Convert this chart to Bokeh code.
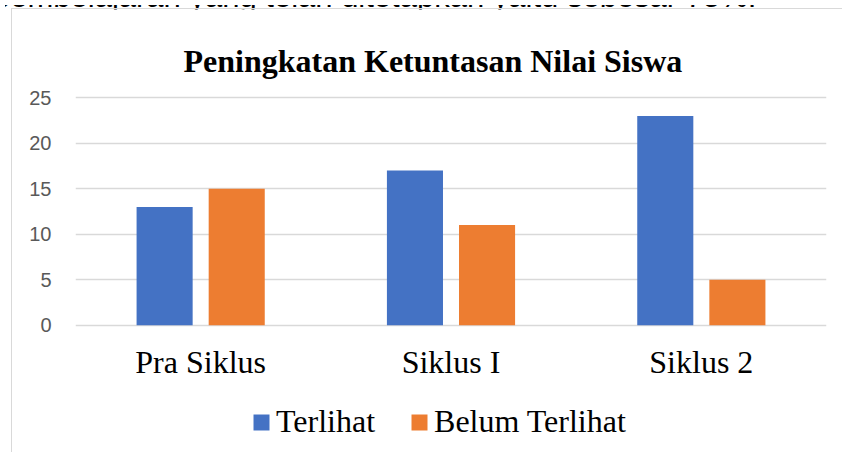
from bokeh.plotting import figure
from bokeh.models import (FactorRange, Range1d, FixedTicker, Legend, LegendItem,
                          ColumnDataSource, Div, Label)
from bokeh.layouts import column
from bokeh.transform import dodge
from bokeh.embed import file_html
from bokeh.resources import INLINE

# ---- data ----
categories = ["Pra Siklus", "Siklus I", "Siklus 2"]
terlihat = [13, 17, 23]
belum_terlihat = [15, 11, 5]
y_ticks = [0, 5, 10, 15, 20, 25]
title_text = "Peningkatan Ketuntasan Nilai Siswa"
series_names = ["Terlihat", "Belum Terlihat"]
page_text = "pembelajaran yang telah ditetapkan yaitu sebesar 75%."

src = ColumnDataSource(dict(cat=categories, a=terlihat, b=belum_terlihat))

top_div = Div(
    text=('<div style="position:relative; top:-24px; left:-12px; '
          'font-family:\'Liberation Sans\'; font-size:31px; line-height:31px; '
          'white-space:nowrap; color:#000;">' + page_text + '</div>'),
    width=842, height=8, styles={"overflow": "hidden"})

# 227 px of frame hold 0..25; the frame is extended 88 px above (title)
# and 128 px below (category labels and legend)
PX = 25 / 227
p = figure(frame_width=750, frame_height=443, output_backend="svg", toolbar_location=None,
           x_range=FactorRange(factors=categories),
           y_range=Range1d(-128 * PX, 25 + 88 * PX),
           min_border_left=63, min_border_right=17, min_border_top=0, min_border_bottom=0)
p.styles = {"border-left": "1px solid #d9d9d9", "border-top": "1px solid #d9d9d9",
            "margin-left": "11px", "margin-top": "-10px"}
p.outline_line_color = None
p.background_fill_color = "white"
p.border_fill_color = "white"

r1 = p.vbar(x=dodge("cat", -0.144, range=p.x_range), top="a", width=0.224, source=src,
            fill_color="#4472C4", line_color=None)
r2 = p.vbar(x=dodge("cat", 0.144, range=p.x_range), top="b", width=0.224, source=src,
            fill_color="#ED7D31", line_color=None)

p.xgrid.visible = False
p.ygrid.grid_line_color = "#d9d9d9"
p.ygrid.grid_line_width = 1.3
p.yaxis.ticker = FixedTicker(ticks=y_ticks)

for ax in (p.xaxis, p.yaxis):
    ax.axis_line_color = None
    ax.major_tick_line_color = None
    ax.minor_tick_line_color = None

p.yaxis.major_label_text_font = "Liberation Sans"
p.yaxis.major_label_text_font_size = "20px"
p.yaxis.major_label_text_color = "#595959"
p.yaxis.major_label_standoff = 18

p.xaxis.fixed_location = 0
p.xaxis.major_label_text_font = "Liberation Serif"
p.xaxis.major_label_text_font_size = "32px"
p.xaxis.major_label_text_color = "black"
p.xaxis.major_label_standoff = 13

title = Label(x=0, y=25 + 37 * PX, x_offset=108, text=title_text,
              text_align="left", text_baseline="alphabetic",
              text_font="Liberation Serif", text_font_style="bold",
              text_font_size="32px", text_color="black")
p.add_layout(title)

legend = Legend(items=[LegendItem(label=series_names[0], renderers=[r1]),
                       LegendItem(label=series_names[1], renderers=[r2])],
                orientation="horizontal", location=(176, 13),
                glyph_width=20, glyph_height=20, label_standoff=5, spacing=34,
                padding=0, margin=0, border_line_color=None, background_fill_alpha=0,
                label_text_font="Liberation Serif", label_text_font_size="32px",
                label_text_color="black")
p.add_layout(legend, "center")

layout = column(top_div, p, spacing=0)
open("out.html", "w").write(file_html(layout, INLINE))
